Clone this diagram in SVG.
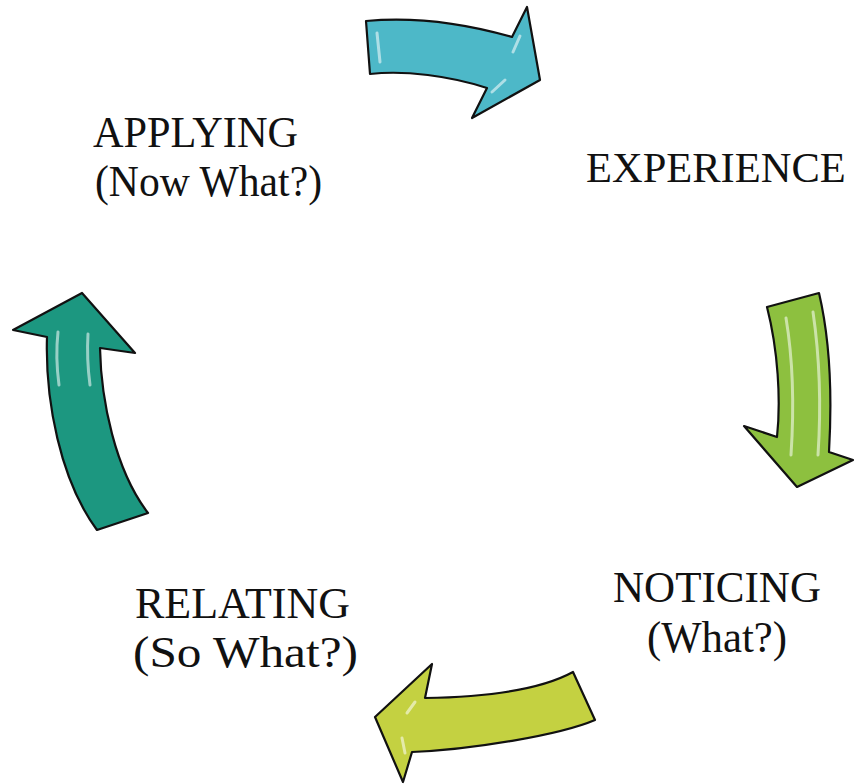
<svg xmlns="http://www.w3.org/2000/svg" width="854" height="784" viewBox="0 0 854 784">
<style>
.lbl{font-family:"Liberation Serif","Times New Roman",serif;font-size:45px;fill:#111}
.arr{stroke:#111;stroke-width:2.2;stroke-linejoin:round}
.hl{fill:none;stroke:#fff;stroke-width:3;stroke-linecap:round;opacity:0.55}
</style>
<rect width="854" height="784" fill="#fff"/>
<g id="connectors">
  <g id="arrow-top">
    <path class="arr" fill="#4db8c8" d="M366,21 C420,16 470,25 512,37 L527,7 L540,80 L472,118 L487,88 C450,76 405,70 370,74 Z"/>
    <path class="hl" d="M377,33 L380,62"/>
    <path class="hl" d="M520,36 L513,52"/>
    <path class="hl" d="M505,80 L492,92"/>
  </g>
  <g id="arrow-right">
    <path class="arr" fill="#8dc03f" d="M767,307 L819,293 C830,340 832,400 829,452 L853,460 L797,487 L744,426 L777,437 C781,400 778,350 767,307 Z"/>
    <path class="hl" d="M786,318 C793,360 794,410 791,455"/>
    <path class="hl" d="M813,312 C820,360 821,410 818,455"/>
  </g>
  <g id="arrow-bottom">
    <path class="arr" fill="#c4d141" d="M573,672 L595,720 C560,735 470,750 412,752 L403,782 L375,717 L432,664 L425,698 C490,697 540,690 573,672 Z"/>
    <path class="hl" d="M415,702 L407,713"/>
    <path class="hl" d="M402,738 L405,753"/>
  </g>
  <g id="arrow-left">
    <path class="arr" fill="#1c9780" d="M82,293 L135,353 L100,348 C101,400 115,470 148,513 L97,530 C60,480 45,400 47,337 L13,330 Z"/>
    <path class="hl" d="M58,332 C56,350 57,370 59,385"/>
    <path class="hl" d="M88,334 C87,350 88,370 90,385"/>
  </g>
</g>
<g id="node-applying">
  <text class="lbl" x="93" y="147" textLength="205" lengthAdjust="spacingAndGlyphs">APPLYING</text>
  <text class="lbl" x="95" y="196" textLength="227" lengthAdjust="spacingAndGlyphs">(Now What?)</text>
</g>
<g id="node-experience">
  <text class="lbl" x="586" y="182" style="font-size:42.5px">EXPERIENCE</text>
</g>
<g id="node-noticing">
  <text class="lbl" x="613" y="602" textLength="208" lengthAdjust="spacingAndGlyphs">NOTICING</text>
  <text class="lbl" x="647" y="652" textLength="140" lengthAdjust="spacingAndGlyphs">(What?)</text>
</g>
<g id="node-relating">
  <text class="lbl" x="135" y="618" textLength="215" lengthAdjust="spacingAndGlyphs">RELATING</text>
  <text class="lbl" x="133" y="667" textLength="225" lengthAdjust="spacingAndGlyphs">(So What?)</text>
</g>
</svg>
